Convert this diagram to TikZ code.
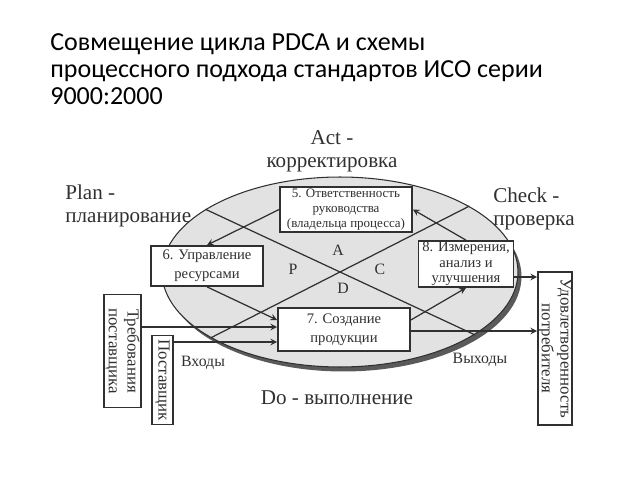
\documentclass[tikz,border=0pt]{standalone}
\usepackage{fontspec}
\setmainfont{Liberation Serif}
\newfontfamily\titlefont{Carlito}
\usetikzlibrary{shapes.geometric,arrows,positioning,calc}
\definecolor{ovalgray}{HTML}{E2E2E2}
\definecolor{shadowgray}{HTML}{5A5A5A}
\definecolor{inkgray}{HTML}{303030}
\tikzstyle{BOX} = [rectangle, draw=inkgray, line width=1pt, fill=white, align=center, inner sep=0pt, text=inkgray, font=\fontsize{8.3}{8.9}\selectfont]
\tikzstyle{BOX_SMALL} = [BOX, font=\fontsize{7.4}{8.5}\selectfont]
\tikzstyle{VBOX} = [BOX, rotate=-90, font=\fontsize{9.6}{10.6}\selectfont]
\tikzstyle{PHASE} = [align=left, inner sep=0pt, text=inkgray, font=\fontsize{12}{13}\selectfont]
\tikzstyle{LETTER} = [inner sep=0pt, text=inkgray, font=\fontsize{9}{10}\selectfont]
\tikzstyle{LINE} = [draw=inkgray, line width=0.7pt]
\tikzstyle{ARROW} = [LINE, -stealth]

\begin{document}
\begin{tikzpicture}[x=0.02cm, y=-0.02cm]
\useasboundingbox (0,0) rectangle (640,480);
% Title
\node [anchor=north west, align=left, inner sep=0pt, font=\titlefont\fontsize{14.8}{15.4}\selectfont] (TITLE) at (50,33)
  {Совмещение цикла PDCA и схемы\\ процессного подхода стандартов ИСО серии\\ 9000:2000};
% Oval
\node [ellipse, fill=shadowgray, minimum width=7.12cm, minimum height=3.8cm] (SHADOW) at (343.5,276.5) {};
\node [ellipse, draw=inkgray, line width=0.6pt, fill=ovalgray, minimum width=7.12cm, minimum height=3.8cm] (OVAL) at (340,272) {};
% Crossing lines
\path [LINE] (OVAL.155) -- (OVAL.335);
\path [LINE] (OVAL.207) -- (OVAL.27);
% Place node
\node [BOX_SMALL, minimum width=2.64cm, minimum height=0.9cm] (RESP) at (346,209.5) {5. Ответственность\\ руководства\\ (владельца процесса)};
\node [BOX, minimum width=2.24cm, minimum height=0.8cm] (RES) at (207,266) {6. Управление\\[2pt] ресурсами};
\node [BOX, minimum width=1.9cm, minimum height=0.92cm] (MEAS) at (466,264) {8. Измерения,\\ анализ и\\ улучшения};
\node [BOX, minimum width=2.64cm, minimum height=0.86cm] (PROD) at (344,329.5) {7. Создание\\[2pt] продукции};
\node [VBOX, minimum width=2.26cm, minimum height=0.74cm] (REQ) at (122.5,351) {Требования\\ поставщика};
\node [VBOX, minimum width=1.78cm, minimum height=0.42cm] (SUP) at (162.5,380) {Поставщик};
\node [VBOX, minimum width=3.06cm, minimum height=0.68cm] (SAT) at (555,348.5) {Удовлетворенность\\ потребителя};
% Phases
\node [PHASE, align=center] (ACT) at (332,151) {Act -\\ корректировка};
\node [PHASE, anchor=west] (PLAN) at (65,206) {Plan -\\ планирование};
\node [PHASE, anchor=west] (CHECK) at (493,209) {Check -\\ проверка};
\node [PHASE] (DO) at (337,398) {Do - выполнение};
\node [LETTER] (A) at (338,250) {A};
\node [LETTER] (P) at (293,269) {P};
\node [LETTER] (C) at (380,269) {C};
\node [LETTER] (D) at (343,288) {D};
\node [LETTER] (IN) at (203,363) {Входы};
\node [LETTER] (OUT) at (480,360) {Выходы};
% LINES and ARROWS
\path [ARROW] (RESP.west) -- (RES.north);
\path [ARROW] (RES.south) -- (PROD.west |- 0,320);
\path [ARROW] (PROD.east |- 0,320) -- (MEAS.south);
\path [ARROW] (MEAS.north) -- (RESP.east);
\path [ARROW] (MEAS.east |- 0,277) -- (SAT.south |- 0,277);
\path [ARROW] (REQ.north |- 0,327) -- (PROD.west |- 0,327);
\path [ARROW] (SUP.north |- 0,342) -- (PROD.west |- 0,342);
\path [ARROW] (PROD.east |- 0,331) -- (SAT.south |- 0,331);
\end{tikzpicture}
\end{document}
